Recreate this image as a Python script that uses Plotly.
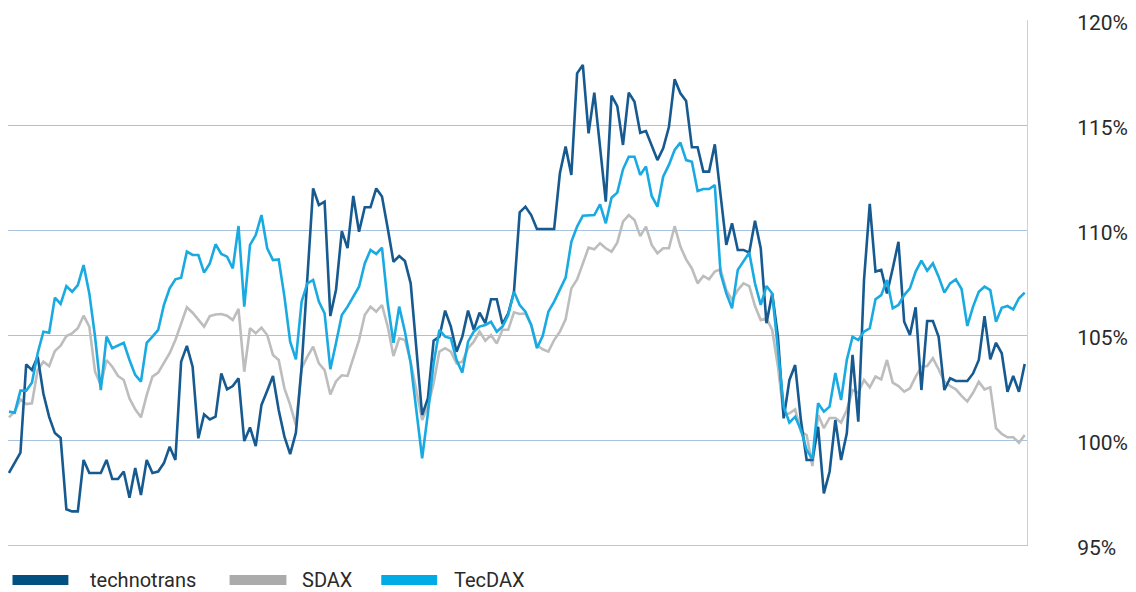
import plotly.graph_objects as go

technotrans = [98.43, 98.9, 99.4, 103.6, 103.33, 103.97, 102.2, 101.1, 100.33, 100.1,
    96.7, 96.6, 96.6, 99.05, 98.43, 98.43, 98.43, 99.05, 98.14, 98.14,
    98.5, 97.25, 98.67, 97.38, 99.05, 98.43, 98.5, 98.9, 99.68, 99.05,
    103.73, 104.48, 103.49, 100.08, 101.22, 100.98, 101.11, 103.17, 102.41, 102.57,
    102.94, 99.95, 100.6, 99.71, 101.67, 102.35, 103.05, 101.43, 100.16, 99.33,
    100.35, 103.49, 107.78, 111.98, 111.19, 111.35, 105.9, 107.17, 109.95, 109.14,
    111.62, 109.92, 111.08, 111.08, 111.98, 111.59, 110.08, 108.49, 108.76, 108.52,
    107.46, 104.29, 101.19, 101.98, 104.73, 104.92, 106.16, 105.4, 104.2, 104.92,
    106.16, 105.24, 106.06, 105.56, 106.7, 106.7, 105.52, 106.03, 107.06, 110.84,
    111.11, 110.71, 110.05, 110.05, 110.05, 110.05, 112.7, 113.97, 112.62, 117.46,
    117.86, 114.6, 116.54, 113.8, 111.35, 116.4, 115.9, 114.05, 116.54, 116.11,
    114.63, 114.71, 114.05, 113.33, 113.89, 114.9, 117.18, 116.51, 116.14, 113.94,
    113.94, 112.78, 112.78, 114.08, 111.67, 109.29, 110.32, 109.05, 109.05, 108.92,
    110.44, 109.13, 105.56, 106.98, 104.92, 101.03, 102.86, 103.57, 100.95, 99.05,
    99.05, 100.63, 97.46, 98.49, 100.95, 99.05, 100.32, 104.05, 100.87, 107.62,
    111.24, 108.02, 108.1, 106.98, 108.17, 109.44, 105.63, 105.0, 106.32, 102.38,
    105.67, 105.67, 104.92, 102.38, 102.94, 102.81, 102.81, 102.81, 103.17, 103.81,
    105.9, 103.84, 104.63, 104.13, 102.3, 103.05, 102.3, 103.62]

sdax = [101.08, 101.35, 101.94, 101.71, 101.75, 103.33, 103.73, 103.52, 104.24, 104.49,
    104.95, 105.08, 105.32, 105.92, 105.4, 103.25, 102.62, 103.81, 103.49, 103.05,
    102.86, 101.98, 101.46, 101.08, 102.14, 103.02, 103.21, 103.65, 104.13, 104.76,
    105.56, 106.32, 106.06, 105.75, 105.4, 105.9, 105.98, 106.0, 105.92, 105.71,
    106.24, 103.25, 105.32, 105.08, 105.35, 105.0, 104.05, 103.81, 102.46, 101.67,
    100.71, 103.41, 103.97, 104.44, 103.65, 103.33, 102.17, 102.8, 103.08, 103.05,
    103.89, 104.76, 105.95, 106.35, 106.11, 106.43, 105.4, 104.0, 104.84, 104.76,
    103.73, 102.38, 100.95, 101.59, 102.7, 104.21, 104.37, 104.21, 103.65, 103.73,
    104.37, 104.68, 105.16, 104.73, 105.0, 104.6, 105.25, 105.25, 106.08, 106.0,
    106.03, 105.48, 104.52, 104.32, 104.21, 104.76, 105.16, 105.75, 107.22, 107.65,
    108.41, 109.16, 109.08, 109.37, 109.13, 108.97, 109.4, 110.4, 110.71, 110.48,
    109.71, 110.16, 109.29, 108.89, 109.13, 109.13, 110.18, 109.21, 108.6, 108.17,
    107.46, 107.81, 107.65, 108.02, 108.13, 107.14, 106.67, 107.14, 107.46, 107.33,
    106.38, 105.71, 105.79, 105.24, 103.49, 101.19, 101.27, 101.46, 100.4, 100.24,
    98.76, 101.2, 100.56, 101.05, 101.05, 100.83, 101.43, 102.38, 102.25, 102.86,
    102.51, 103.02, 102.89, 103.81, 102.73, 102.57, 102.3, 102.46, 103.02, 103.49,
    103.52, 103.89, 103.37, 102.78, 102.57, 102.41, 102.1, 101.83, 102.25, 102.78,
    102.41, 102.51, 100.56, 100.29, 100.13, 100.13, 99.87, 100.24]

tecdax = [101.35, 101.3, 102.35, 102.35, 102.73, 104.13, 105.16, 105.11, 106.78, 106.48,
    107.33, 107.06, 107.38, 108.33, 106.98, 104.92, 102.38, 104.92, 104.37, 104.52,
    104.63, 103.81, 103.1, 102.78, 104.63, 104.92, 105.24, 106.43, 107.22, 107.65,
    107.73, 108.97, 108.81, 108.81, 107.97, 108.41, 109.32, 108.86, 108.73, 108.17,
    110.19, 106.35, 109.29, 109.76, 110.71, 109.13, 108.57, 108.6, 106.83, 104.68,
    103.84, 106.59, 107.46, 107.62, 106.59, 106.03, 103.37, 104.63, 105.95, 106.35,
    106.83, 107.3, 108.41, 109.05, 108.86, 109.16, 106.51, 104.63, 106.35, 105.16,
    103.65, 101.43, 99.13, 101.27, 103.65, 105.24, 104.92, 104.84, 103.81, 103.21,
    104.68, 105.16, 105.4, 105.48, 105.63, 105.16, 105.4, 105.95, 107.06, 106.43,
    106.11, 105.48, 104.37, 104.95, 106.11, 106.59, 107.14, 107.73, 109.44, 110.16,
    110.68, 110.68, 110.71, 111.22, 110.32, 111.54, 111.78, 112.89, 113.49, 113.49,
    112.62, 113.02, 111.62, 111.11, 112.54, 113.1, 113.81, 114.16, 113.33, 113.25,
    111.86, 111.95, 111.95, 112.14, 107.94, 106.98, 106.27, 108.1, 108.49, 108.92,
    107.46, 106.43, 107.33, 106.98, 104.29, 101.59, 100.83, 101.11, 100.48, 99.52,
    99.1, 101.75, 101.35, 101.59, 103.19, 101.9, 103.81, 104.92, 104.76, 105.16,
    105.32, 106.7, 106.9, 107.62, 106.27, 106.43, 106.9, 107.22, 108.02, 108.54,
    108.06, 108.41, 107.78, 107.02, 107.46, 107.65, 107.19, 105.43, 106.35, 107.06,
    107.3, 107.14, 105.63, 106.3, 106.38, 106.22, 106.75, 107.02]

series_names = ["technotrans", "SDAX", "TecDAX"]
tick_values = [95, 100, 105, 110, 115, 120]
tick_labels = ["95%", "100%", "105%", "110%", "115%", "120%"]

colors = {"technotrans": "#175a90", "SDAX": "#bdbdbd", "TecDAX": "#19aae2"}
swatch_colors = {"technotrans": "#005082", "SDAX": "#ababab", "TecDAX": "#00ace6"}

x = list(range(len(technotrans)))
data = {"technotrans": technotrans, "SDAX": sdax, "TecDAX": tecdax}

fig = go.Figure()
for name in ["SDAX", "technotrans", "TecDAX"]:
    fig.add_trace(go.Scatter(x=x, y=data[name], mode="lines", name=name,
                             line=dict(color=colors[name], width=2.6),
                             showlegend=False, hoverinfo="skip"))

W, H = 1136, 592
L, R, T, B = 8, 107, 20, 47
PW, PH = W - L - R, H - T - B

fig.update_layout(
    width=W, height=H,
    margin=dict(l=L, r=R, t=T, b=B),
    paper_bgcolor="white", plot_bgcolor="white",
    hovermode=False,
    font=dict(family="Roboto, Liberation Sans, Arial, sans-serif", size=21, color="#2a2a2a"),
    xaxis=dict(range=[-0.17, 177.4], showgrid=False, zeroline=False,
               showticklabels=False, ticks="", showline=True,
               linecolor="#b9c7d6", linewidth=1, fixedrange=True),
    yaxis=dict(range=[95, 120], side="right", tickvals=tick_values,
               ticktext=tick_labels, showgrid=True, gridcolor="#a9c2de",
               gridwidth=1, zeroline=False, showline=True,
               linecolor="#c9d3de", linewidth=1, ticks="",
               ticklabelstandoff=45, ticklabelshift=3, fixedrange=True,
               tickfont=dict(size=21, color="#2a2a2a")),
)

# custom legend below the plot: (name, swatch x0, swatch x1, text x)
legend_items = [("technotrans", 12.5, 68.5, 88), ("SDAX", 230, 287, 301), ("TecDAX", 382, 438, 453)]
for name, x0, x1, tx in legend_items:
    fig.add_shape(type="rect", xref="paper", yref="paper",
                  x0=(x0 - L) / PW, x1=(x1 - L) / PW,
                  y0=(H - B - 585) / PH, y1=(H - B - 575) / PH,
                  fillcolor=swatch_colors[name], line=dict(width=0))
    fig.add_annotation(xref="paper", yref="paper",
                       x=(tx - L) / PW, y=(H - B - 580) / PH,
                       text=name, showarrow=False, xanchor="left", yanchor="middle",
                       font=dict(size=20, color="#2a2a2a"))

fig.write_html("out.html",
               config={"displayModeBar": False, "staticPlot": True},
               post_script="document.body.style.margin='0px';document.documentElement.style.overflow='hidden';")
